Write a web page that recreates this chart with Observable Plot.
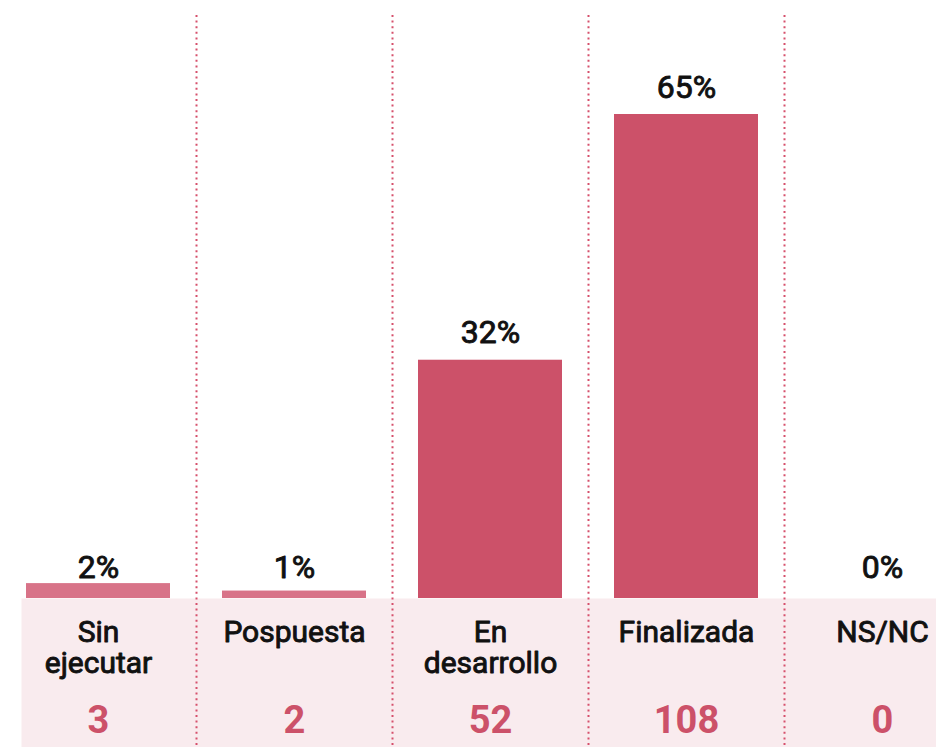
<!DOCTYPE html>
<html>
<head>
<meta charset="utf-8">
<script src="https://cdn.jsdelivr.net/npm/d3@7"></script>
<script src="https://cdn.jsdelivr.net/npm/@observablehq/plot@0.6"></script>
<style>
  html, body { margin: 0; padding: 0; background: #fff; }
  #chart svg { display: block; }
</style>
</head>
<body>
<div id="chart"></div>
<script>
const categories = ["Sin ejecutar", "Pospuesta", "En desarrollo", "Finalizada", "NS/NC"];
const labels = ["Sin\nejecutar", "Pospuesta", "En\ndesarrollo", "Finalizada", "NS/NC"];
const percents = [2, 1, 32, 65, 0];
const counts = [3, 2, 52, 108, 0];

const data = categories.map((c, i) => ({cat: c, label: labels[i], pct: percents[i], count: counts[i]}));

const PINK = "#cc5169";
const LIGHT = "#d87388";
const BAND = "#f9ebee";
const INK = "#111";
const FONT = "Roboto, 'Noto Sans', sans-serif";

const chart = Plot.plot({
  width: 936,
  height: 747,
  marginTop: 114,
  marginBottom: 149,
  marginLeft: 0,
  marginRight: 0,
  style: {fontFamily: FONT, background: "#fff"},
  x: {domain: categories, range: [0, 980], padding: 0, axis: null},
  y: {domain: [0, 65], axis: null},
  marks: [
    Plot.frame({fill: BAND, stroke: "none", insetTop: 484, insetBottom: -149, insetLeft: 21}),
    Plot.ruleX(data.slice(0, 4), {
      x: "cat", dx: 98, stroke: "#d6506c", strokeWidth: 2,
      strokeDasharray: "2,3.6", insetTop: -99, insetBottom: -149
    }),
    Plot.barY(data, {
      x: "cat", y: "pct",
      fill: d => d.pct < 10 ? LIGHT : PINK,
      insetLeft: 26, insetRight: 26
    }),
    Plot.text(data.filter(d => d.pct >= 10), {
      x: "cat", y: "pct", text: d => `${d.pct}%`,
      lineAnchor: "bottom", dy: -17, fontSize: 32, fill: INK, stroke: INK, strokeWidth: 0.9
    }),
    Plot.text(data.filter(d => d.pct < 10), {
      x: "cat", y: () => 0, text: d => `${d.pct}%`,
      lineAnchor: "bottom", dy: -21, fontSize: 32, fill: INK, stroke: INK, strokeWidth: 0.9
    }),
    Plot.text(data, {
      x: "cat", y: () => 0, text: "label",
      lineAnchor: "top", dy: 21, fontSize: 30, lineHeight: 1.04, fill: INK, stroke: INK, strokeWidth: 0.9
    }),
    Plot.text(data, {
      x: "cat", y: () => 0, text: d => String(d.count),
      lineAnchor: "bottom", dy: 134, fontSize: 38, fontWeight: "bold", fill: PINK
    })
  ]
});

document.getElementById("chart").appendChild(chart);
</script>
</body>
</html>
